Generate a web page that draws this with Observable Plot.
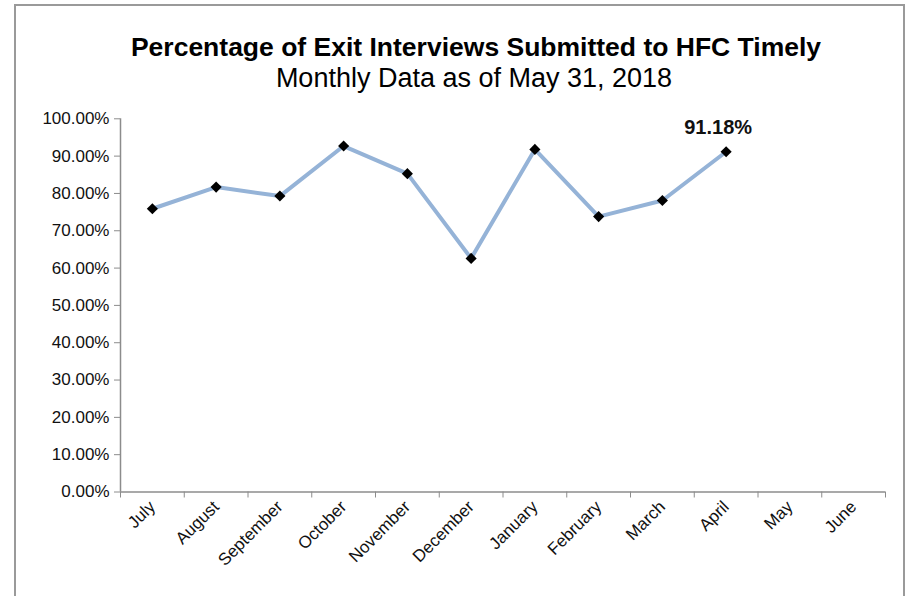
<!DOCTYPE html>
<html><head><meta charset="utf-8">
<script src="https://cdn.jsdelivr.net/npm/d3@7"></script>
<script src="https://cdn.jsdelivr.net/npm/@observablehq/plot@0.6"></script>
<style>
html,body{margin:0;padding:0;background:#fff;}
body{width:906px;height:596px;position:relative;overflow:hidden;font-family:"Liberation Sans",Arial,sans-serif;}
#frame{position:absolute;left:14px;top:4px;width:891px;height:640px;border:2px solid #9a9a9a;box-sizing:border-box;}
#title{position:absolute;left:46px;width:860px;top:32px;line-height:30px;font-size:26.5px;font-weight:bold;text-align:center;color:#000;white-space:nowrap;}
#subtitle{position:absolute;left:44px;width:860px;top:63px;line-height:30px;font-size:27px;text-align:center;color:#000;white-space:nowrap;}
#chart{position:absolute;left:0;top:100px;}
</style></head>
<body>
<div id="frame"></div>
<div id="title">Percentage of Exit Interviews Submitted to HFC Timely</div>
<div id="subtitle">Monthly Data as of May 31, 2018</div>
<div id="chart"></div>
<script>
const months = ["July","August","September","October","November","December","January","February","March","April","May","June"];
const values = [75.9, 81.7, 79.3, 92.7, 85.3, 62.6, 91.8, 73.8, 78.1, 91.18];
const yTicks = [0,10,20,30,40,50,60,70,80,90,100];
const labelText = "91.18%";

const points = values.map((v,i)=>({month: months[i], pos: i+0.5, value: v}));
const last = points[points.length-1];
const fontFam = '"Liberation Sans", Arial, sans-serif';

const chart = Plot.plot({
  width: 906, height: 496,
  marginLeft: 120, marginRight: 21, marginTop: 18.3, marginBottom: 104.5,
  x: {type: "linear", domain: [0, months.length], axis: null, label: null},
  y: {domain: [0, 100], axis: null, label: null},
  style: {fontFamily: fontFam, fontSize: "17px", overflow: "visible", background: "transparent", color: "#111"},
  marks: [
    Plot.ruleY([0], {stroke: "#8c8c8c", strokeWidth: 1.5}),
    Plot.ruleX([0], {stroke: "#8c8c8c", strokeWidth: 1.5}),
    Plot.axisY({ticks: yTicks, tickFormat: d => d.toFixed(2) + "%", tickSize: 6, tickPadding: 5, stroke: "#8c8c8c", fill: "#111", fontSize: 17, label: null}),
    Plot.axisX({ticks: d3.range(months.length + 1), tickFormat: () => "", tickSize: 6, stroke: "#8c8c8c", label: null}),
    Plot.axisX({ticks: months.map((m,i) => i + 0.5), tickFormat: d => months[Math.floor(d)], tickSize: 0, tickPadding: 12, tickRotate: -45, textAnchor: "end", fill: "#111", fontSize: 17, label: null}),
    Plot.line(points, {x: "pos", y: "value", stroke: "#95B3D7", strokeWidth: 4}),
    Plot.dot(points, {x: "pos", y: "value", symbol: "diamond2", r: 5, fill: "black", stroke: "none"}),
    Plot.text([last], {x: "pos", y: "value", text: () => labelText, dx: -8, dy: -24, fontWeight: "bold", fontSize: 20, fill: "#111"})
  ]
});
document.getElementById("chart").appendChild(chart);
</script>
</body></html>
